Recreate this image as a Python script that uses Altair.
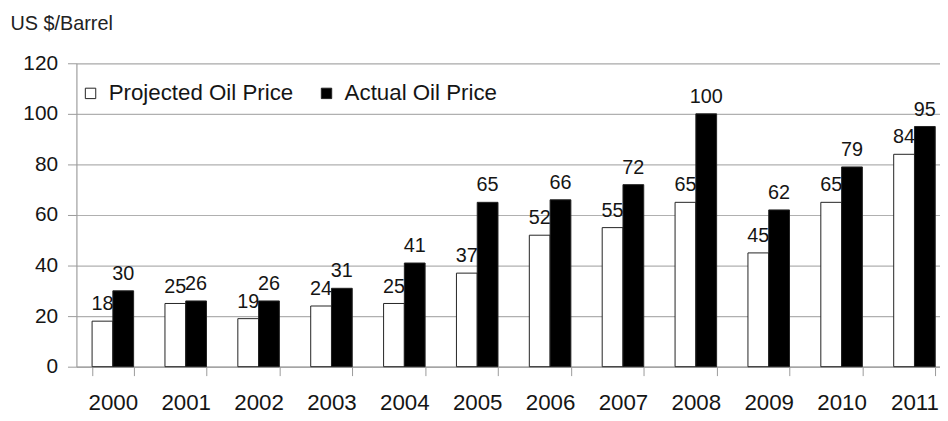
import altair as alt
import pandas as pd

years = ["2000", "2001", "2002", "2003", "2004", "2005",
         "2006", "2007", "2008", "2009", "2010", "2011"]
projected = [18, 25, 19, 24, 25, 37, 52, 55, 65, 45, 65, 84]
actual = [30, 26, 26, 31, 41, 65, 66, 72, 100, 62, 79, 95]
series = ["Projected Oil Price", "Actual Oil Price"]
y_ticks = [0, 20, 40, 60, 80, 100, 120]

rows = []
for i, yr in enumerate(years):
    rows.append({"year": yr, "series": series[0], "value": projected[i]})
    rows.append({"year": yr, "series": series[1], "value": actual[i]})
df = pd.DataFrame(rows)

FONT = "Liberation Sans, Arial"
TEXT = "#151515"
GRID = "#b0b0b0"
AX = "#9a9a9a"

x_enc = alt.X(
    "year:N", sort=years,
    scale=alt.Scale(range=[0, 882], paddingInner=0.43, paddingOuter=0.215),
    axis=alt.Axis(title=None, labelAngle=0, tickBand="extent", tickSize=9,
                  tickColor=AX, domainColor=AX, labelFont=FONT, labelFontSize=22.5,
                  labelColor=TEXT, labelPadding=16, grid=False),
)
xo_enc = alt.XOffset("series:N", sort=series,
                     scale=alt.Scale(domain=series, paddingInner=0, paddingOuter=0))
y_enc = alt.Y(
    "value:Q",
    scale=alt.Scale(domain=[0, 120], nice=False),
    axis=alt.Axis(values=y_ticks, title="US $/Barrel", titleAngle=0, titleAlign="left",
                  titleBaseline="alphabetic", titleX=-67, titleY=-34,
                  titleFont=FONT, titleFontSize=20,
                  titleFontWeight="normal", titleColor="#222",
                  labelFont=FONT, labelFontSize=21, labelColor=TEXT, labelPadding=10,
                  tickSize=9, tickColor=AX, domainColor=AX, gridColor=GRID,
                  gridWidth=1.2),
)

bars = alt.Chart(df).mark_bar(stroke="#222", strokeWidth=1).encode(
    x=x_enc, xOffset=xo_enc, y=y_enc,
    color=alt.Color("series:N", sort=series,
                    scale=alt.Scale(domain=series, range=["white", "black"]),
                    legend=alt.Legend(orient="none", legendX=3, legendY=19,
                                      direction="horizontal", title=None,
                                      symbolType="square", symbolSize=110,
                                      symbolStrokeColor="#222", symbolStrokeWidth=1,
                                      labelFont=FONT, labelFontSize=22.5, labelColor=TEXT,
                                      labelLimit=400, columnPadding=22, labelOffset=7,
                                      padding=0)),
)

labels = alt.Chart(df).mark_text(
    font=FONT, fontSize=20, color=TEXT, baseline="alphabetic", dy=-11
).encode(x=x_enc, xOffset=xo_enc, y=y_enc, text="value:Q")

chart = alt.layer(bars, labels).properties(
    width=871, height=306,
    autosize=alt.AutoSizeParams(type="none"),
    padding={"left": 69, "top": 54, "right": 0, "bottom": 50},
).configure_view(strokeOpacity=0).configure(background="white")

chart.save("out.html", embed_options={"renderer": "svg", "actions": False})
